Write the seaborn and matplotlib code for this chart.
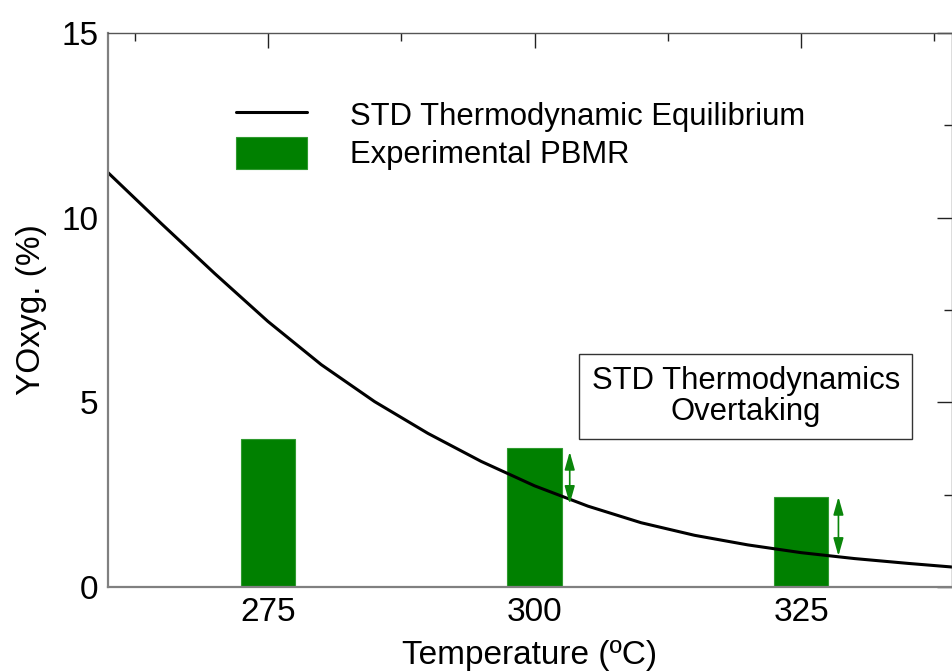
import matplotlib
matplotlib.use("Agg")
import matplotlib.pyplot as plt
from matplotlib.ticker import MultipleLocator
import seaborn as sns
import pandas as pd

# ---- data ----
bar_temps = [275, 300, 325]
bar_values = [4.02, 3.76, 2.43]

curve_temps = [260, 265, 270, 275, 280, 285, 290, 295, 300, 305, 310, 315,
               320, 325, 330, 335, 339.2]
curve_values = [11.22, 9.84, 8.49, 7.19, 6.02, 5.02, 4.16, 3.40, 2.74, 2.19, 1.74, 1.40,
                1.14, 0.93, 0.77, 0.64, 0.54]

arrow_x = [303.3, 328.5]
arrow_top = [3.66, 2.44]
arrow_bottom = [2.25, 0.84]

x_ticks = [275, 300, 325]
y_ticks = [0, 5, 10, 15]

line_label = "STD Thermodynamic Equilibrium"
bar_label = "Experimental PBMR"
box_text = "STD Thermodynamics\nOvertaking"
x_label = "Temperature (ºC)"
y_label = "YOxyg. (%)"

# ---- style ----
sns.set_style("white")
plt.rcParams["font.family"] = ["Liberation Sans", "DejaVu Sans"]
plt.rcParams["text.color"] = "black"
plt.rcParams["axes.labelcolor"] = "black"

fig = plt.figure(figsize=(9.52, 6.71), dpi=100)
ax = fig.add_axes([108 / 952, 1 - 587 / 671, 844 / 952, 554 / 671])

bars_df = pd.DataFrame({"T": bar_temps, "Y": bar_values})
curve_df = pd.DataFrame({"T": curve_temps, "Y": curve_values})

sns.barplot(data=bars_df, x="T", y="Y", native_scale=True, width=0.205,
            color="#008000", saturation=1, errorbar=None, label=bar_label,
            edgecolor="#2f9a2f", linewidth=0.8, ax=ax)
sns.lineplot(data=curve_df, x="T", y="Y", color="black", linewidth=2.2,
             label=line_label, ax=ax)

for xa, yt, yb in zip(arrow_x, arrow_top, arrow_bottom):
    ax.annotate("", xy=(xa, yb), xytext=(xa, yt),
                arrowprops=dict(arrowstyle="<|-|>,head_length=0.6,head_width=0.17",
                                mutation_scale=18, color="#0a860a", lw=1.2,
                                shrinkA=0, shrinkB=0))

ax.text(319.8, 5.16, box_text, fontsize=22.3, ha="center", va="center",
        multialignment="center", linespacing=1.05, color="black",
        bbox=dict(boxstyle="square,pad=0.39", fc="white", ec="#333333", lw=1))

ax.set_xlim(260, 339.15)
ax.set_ylim(0, 15)
ax.set_xticks(x_ticks)
ax.set_yticks(y_ticks)
ax.xaxis.set_minor_locator(MultipleLocator(12.5))
ax.yaxis.set_minor_locator(MultipleLocator(2.5))
ax.tick_params(which="both", direction="in", top=True, right=True,
               colors="#222222", labelcolor="black")
ax.tick_params(which="major", length=11, width=1, labelsize=24, pad=7)
ax.tick_params(which="minor", length=6, width=1)

ax.set_xlabel(x_label, fontsize=24, labelpad=8.5, color="black")
ax.set_ylabel(y_label, fontsize=24, labelpad=10, color="black")

for side in ["left", "bottom"]:
    ax.spines[side].set_color("#808080")
    ax.spines[side].set_linewidth(1.6)
for side in ["top", "right"]:
    ax.spines[side].set_color("#555555")
    ax.spines[side].set_linewidth(1.0)

handles, labels = ax.get_legend_handles_labels()
order = [labels.index(line_label), labels.index(bar_label)]
leg = ax.legend([handles[i] for i in order], [labels[i] for i in order],
                loc="upper left", bbox_to_anchor=((236 - 108) / 844, (587 - 98.5) / 554),
                frameon=False, fontsize=22.3, handlelength=2.29, handleheight=1.25,
                handletextpad=1.39, labelspacing=0.14, borderpad=0, borderaxespad=0)
for t in leg.get_texts():
    t.set_color("black")

fig.savefig("out.png", dpi=100)
